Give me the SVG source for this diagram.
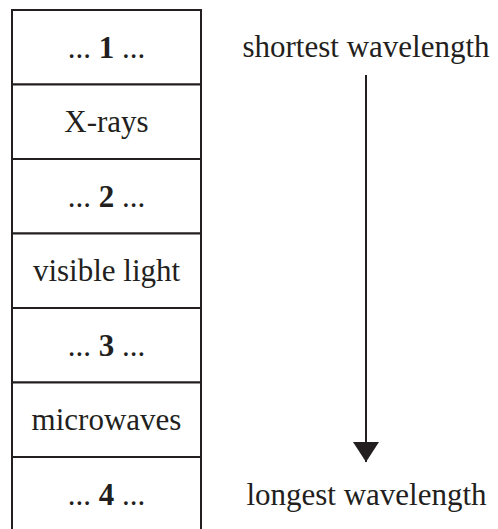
<svg xmlns="http://www.w3.org/2000/svg" width="498" height="529" viewBox="0 0 498 529">
<style>
.t{font-family:"Liberation Serif","Times New Roman",serif;font-size:31px;font-weight:normal;fill:#231f20;text-anchor:middle}
.b{font-weight:bold}
.cell{fill:#fff;stroke:#231f20;stroke-width:2}
.conn{stroke:#231f20;stroke-width:2;fill:none}
</style>
<defs>
<marker id="ah" viewBox="0 0 20 26" refX="20" refY="13" markerWidth="20" markerHeight="26" markerUnits="userSpaceOnUse" orient="auto">
<polygon points="0,0 20,13 0,26" fill="#231f20"/>
</marker>
</defs>
<rect width="498" height="529" fill="#fff"/>
<g id="row1"><rect class="cell" x="12" y="10" width="189" height="74.5"/><text class="t" x="106.5" y="57.5">... <tspan class="b">1</tspan> ...</text></g>
<g id="row2"><rect class="cell" x="12" y="84.5" width="189" height="74.5"/><text class="t" x="106.5" y="132">X-rays</text></g>
<g id="row3"><rect class="cell" x="12" y="159" width="189" height="74.5"/><text class="t" x="106.5" y="206.5">... <tspan class="b">2</tspan> ...</text></g>
<g id="row4"><rect class="cell" x="12" y="233.5" width="189" height="74.5"/><text class="t" x="106.5" y="281">visible light</text></g>
<g id="row5"><rect class="cell" x="12" y="308" width="189" height="74.5"/><text class="t" x="106.5" y="355.5">... <tspan class="b">3</tspan> ...</text></g>
<g id="row6"><rect class="cell" x="12" y="382.5" width="189" height="74.5"/><text class="t" x="106.5" y="430">microwaves</text></g>
<g id="row7"><rect class="cell" x="12" y="457" width="189" height="80"/><text class="t" x="106.5" y="505">... <tspan class="b">4</tspan> ...</text></g>
<g id="shortest"><text class="t" x="366" y="57">shortest wavelength</text></g>
<g id="longest"><text class="t" x="366.5" y="505">longest wavelength</text></g>
<g id="connectors"><line class="conn" x1="366" y1="75" x2="366" y2="462" marker-end="url(#ah)"/></g>
</svg>
